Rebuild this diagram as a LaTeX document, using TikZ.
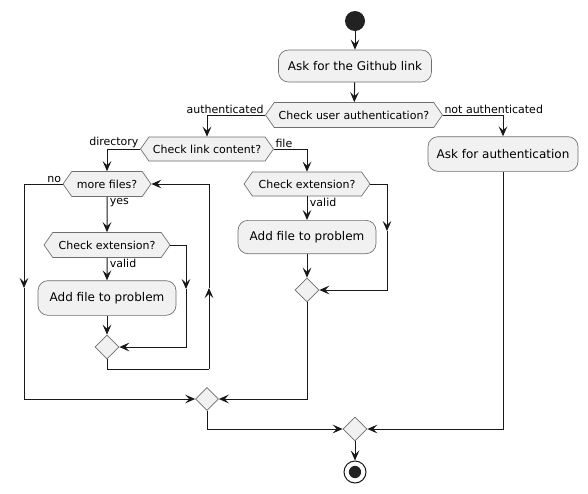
\documentclass[tikz,border=0pt]{standalone}
\usepackage{fontspec}
\setmainfont{DejaVu Sans}
\usetikzlibrary{arrows.meta, positioning, shapes.symbols, shapes.geometric}
\definecolor{actfill}{RGB}{241, 241, 241}
\definecolor{actline}{RGB}{24, 24, 24}
\definecolor{actborder}{RGB}{110, 110, 110}
\definecolor{dotfill}{RGB}{34, 34, 34}

\tikzset{
  actbox/.style={draw=actborder, fill=actfill, rounded corners=7.5pt, line width=0.5pt, font=\fontsize{9}{11}\selectfont, inner sep=0pt},
  decision/.style={signal, signal to=west and east, signal pointer angle=110, draw=actborder, fill=actfill, line width=0.5pt, font=\fontsize{8.25}{10}\selectfont, inner sep=0pt, minimum height=18.75pt},
  mergept/.style={diamond, draw=actborder, fill=actfill, line width=0.5pt, minimum size=18pt, inner sep=0pt},
  flow/.style={draw=actline, line width=0.75pt, -{Stealth[length=7.5pt, width=6.5pt, inset=3pt]}},
  plain/.style={draw=actline, line width=0.75pt},
  lbl/.style={font=\fontsize{8.25}{10}\selectfont, inner sep=1pt},
}

\begin{document}
\begin{tikzpicture}[x=0.75pt, y=-0.75pt]
    \useasboundingbox (0,0) rectangle (588,493);

    % start and top of the flow
    \node[circle, fill=dotfill, minimum size=15pt, inner sep=0pt] (start) at (355,21) {};
    \node[actbox, minimum width=114.75pt, minimum height=24pt] (ghlink) at (355,66) {Ask for the Github link};
    \node[decision, minimum width=132.75pt] (chkauth) at (354,115) {Check user authentication?};
    \node[actbox, minimum width=112.5pt, minimum height=26pt] (askauth) at (503,154) {Ask for authentication};
    \node[decision, minimum width=99.75pt, minimum height=18pt] (chklink) at (207,149) {Check link content?};

    % directory branch
    \node[decision, minimum width=66pt] (morefiles) at (107,184) {more files?};
    \node[decision, minimum width=94.5pt] (chkextA) at (107,245) {Check extension?};
    \node[actbox, minimum width=103.5pt, minimum height=26pt] (addA) at (107,298) {Add file to problem};
    \node[mergept] (mergeA) at (107,347) {};

    % file branch
    \node[decision, minimum width=94.5pt, minimum height=18pt] (chkextB) at (307,184) {Check extension?};
    \node[actbox, minimum width=103.5pt, minimum height=25pt] (addB) at (307,237) {Add file to problem};
    \node[mergept] (mergeB) at (307,290) {};

    % joins and end
    \node[mergept, minimum size=17.25pt] (merge1) at (207,399) {};
    \node[mergept] (merge2) at (355,429) {};
    \node[circle, draw=actline, line width=0.75pt, fill=white, minimum size=16.5pt, inner sep=0pt,
          path picture={\fill[dotfill] (path picture bounding box.center) circle (4.6pt);}] (stop) at (355,472) {};

    \coordinate (extAmid) at (186,289);
    \coordinate (loopbot) at (209,369);
    \coordinate (loopmid) at (209,288);
    \coordinate (nomid) at (24,288);
    \coordinate (extBmid) at (387,231);

    \draw[flow] (start) -- (ghlink);
    \draw[flow] (ghlink) -- (chkauth);
    \draw[flow] (chkauth.west) -| (chklink.north);
    \draw[flow] (chkauth.east) -| (askauth.north);
    \draw[flow] (chklink.west) -| (morefiles.north);
    \draw[flow] (chklink.east) -| (chkextB.north);

    \draw[flow] (morefiles) -- (chkextA);
    \draw[flow] (chkextA) -- (addA);
    \draw[flow] (addA) -- (mergeA);
    \draw[flow] (chkextA.east) -| (extAmid);
    \draw[flow] (extAmid) |- (mergeA.east);
    \draw[plain] (mergeA.south) |- (loopbot);
    \draw[flow] (loopbot) -- (loopmid);
    \draw[flow] (loopmid) |- (morefiles.east);
    \draw[flow] (morefiles.west) -| (nomid);
    \draw[flow] (nomid) |- (merge1.west);

    \draw[flow] (chkextB) -- (addB);
    \draw[flow] (addB) -- (mergeB);
    \draw[flow] (chkextB.east) -| (extBmid);
    \draw[flow] (extBmid) |- (mergeB.east);
    \draw[flow] (mergeB.south) |- (merge1.east);

    \draw[flow] (merge1.south) |- (merge2.west);
    \draw[flow] (askauth.south) |- (merge2.east);
    \draw[flow] (merge2) -- (stop);

    % branch labels
    \node[lbl, anchor=south east] (lauth) at (chkauth.west) {authenticated};
    \node[lbl, anchor=south west] (lnotauth) at (chkauth.east) {not authenticated};
    \node[lbl, anchor=south east] (ldir) at (chklink.west) {directory};
    \node[lbl, anchor=south west] (lfile) at (chklink.east) {file};
    \node[lbl, anchor=south east] (lno) at (morefiles.west) {no};
    \node[lbl, anchor=north west, xshift=1pt] (lyes) at (morefiles.south) {yes};
    \node[lbl, anchor=north west, xshift=1pt] (lvalidA) at (chkextA.south) {valid};
    \node[lbl, anchor=north west, xshift=1pt] (lvalidB) at (chkextB.south) {valid};
\end{tikzpicture}
\end{document}
